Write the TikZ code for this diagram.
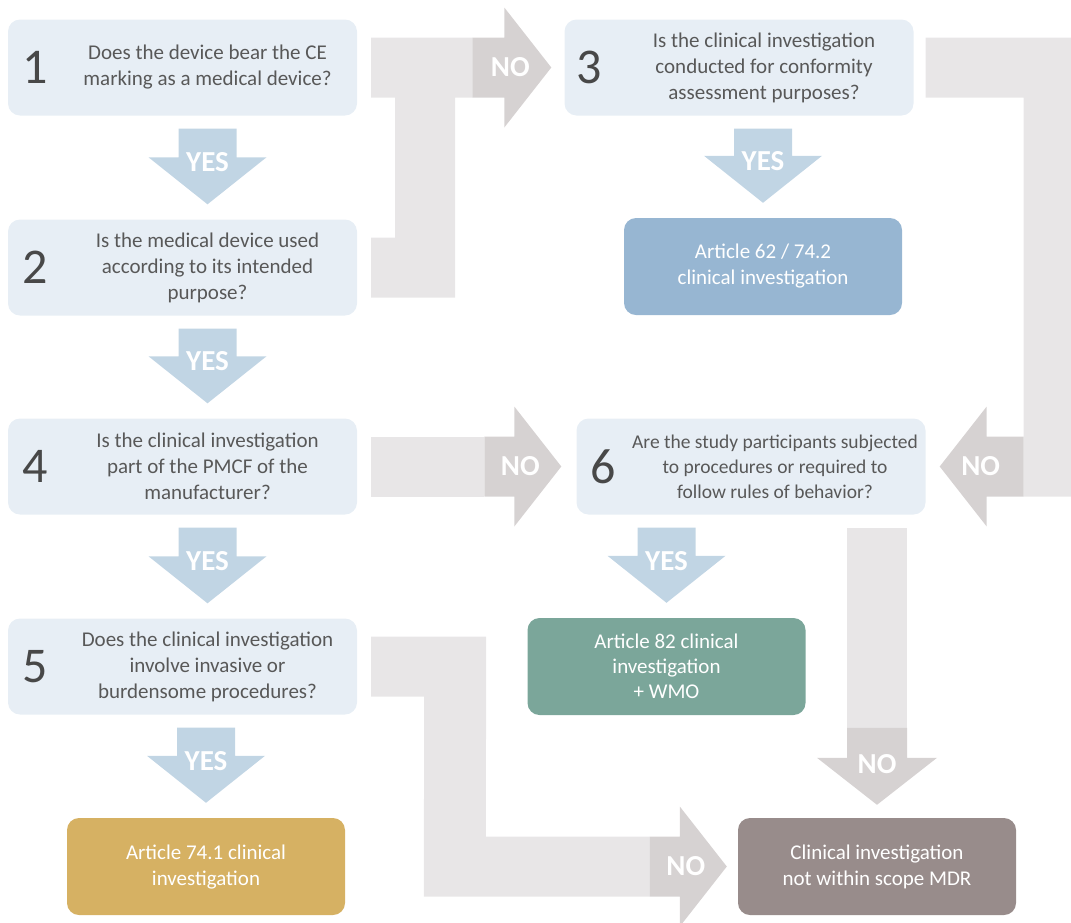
\documentclass[tikz,border=0pt]{standalone}
\usepackage{fontspec}
\setmainfont{Carlito}
\usetikzlibrary{calc}

\definecolor{qfillcol}{HTML}{E7EEF5}
\definecolor{qtextcol}{HTML}{585858}
\definecolor{numcol}{HTML}{484848}
\definecolor{yescol}{HTML}{C1D5E4}
\definecolor{nolightcol}{HTML}{E8E6E7}
\definecolor{nodarkcol}{HTML}{D6D2D2}
\definecolor{art62col}{HTML}{97B6D2}
\definecolor{art82col}{HTML}{7BA69A}
\definecolor{art741col}{HTML}{D6B163}
\definecolor{outcol}{HTML}{988C8B}

\tikzset{
  question/.style={rectangle, rounded corners=12pt, fill=qfillcol, minimum width=349pt, minimum height=96pt},
  result/.style={rectangle, rounded corners=12pt, minimum width=278pt, minimum height=97pt, text=white, align=center, font=\fontsize{21}{26}\selectfont},
  qtext/.style={align=center, text=qtextcol, font=\fontsize{21}{26}\selectfont},
  qnum/.style={text=numcol, font=\fontsize{50}{50}\selectfont},
  arrowlabel/.style={text=white, font=\bfseries\fontsize{29}{29}\selectfont},
  yesfill/.style={fill=yescol},
  nolight/.style={fill=nolightcol},
  nodark/.style={fill=nodarkcol}
}

% YES arrow: name, upper node, lower node, x reference
\newcommand\yesarrow[4]{%
  \coordinate (#1a) at ($(#2.south -| #4)+(0,13)$);
  \coordinate (#1b) at ($(#3.north -| #4)+(0,-15)$);
  \fill[yesfill] ($(#1a)+(-29,0)$) -- ($(#1a)+(29,0)$) -- ($(#1b)+(29,-47)$) -- ($(#1b)+(59,-47)$) -- (#1b)
    -- ($(#1b)+(-59,-47)$) -- ($(#1b)+(-29,-47)$) -- cycle;
  \node[arrowlabel] (#1) at ($(#1b)+(0,-42)$) {YES};}

% NO arrow head: tip, label name, rotation, dark shaft length
\newcommand\nohead[4]{%
  \begin{scope}[shift={(#1)}, rotate=#3]
    \fill[nodark] (-47-#4,-30) -- (-47,-30) -- (-47,-60) -- (0,0) -- (-47,60) -- (-47,30) -- (-47-#4,30) -- cycle;
    \node[arrowlabel] (#2) at (-41,0) {NO};
  \end{scope}}

\begin{document}
\begin{tikzpicture}[x=1pt,y=-1pt]
\useasboundingbox (0,0) rectangle (1071,922);

% questions
\node[question] (q1) at (182.5,67.5) {};
\node[qnum] (q1n) at ($(q1.west)+(27,0)$) {1};
\node[qtext] (q1t) at ($(q1.center)+(25,0)$) {Does the device bear the CE\\marking as a medical device?};
\node[question] (q2) at (182.5,267.5) {};
\node[qnum] (q2n) at ($(q2.west)+(27,0)$) {2};
\node[qtext] (q2t) at ($(q2.center)+(25,0)$) {Is the medical device used\\according to its intended\\purpose?};
\node[question] (q3) at (739,67.5) {};
\node[qnum] (q3n) at ($(q3.west)+(25,0)$) {3};
\node[qtext] (q3t) at ($(q3.center)+(25,0)$) {Is the clinical investigation\\conducted for conformity\\assessment purposes?};
\node[question] (q4) at (182.5,466.5) {};
\node[qnum] (q4n) at ($(q4.west)+(27,0)$) {4};
\node[qtext] (q4t) at ($(q4.center)+(25,0)$) {Is the clinical investigation\\part of the PMCF of the\\manufacturer?};
\node[question] (q5) at (182.5,666.5) {};
\node[qnum] (q5n) at ($(q5.west)+(27,0)$) {5};
\node[qtext] (q5t) at ($(q5.center)+(25,0)$) {Does the clinical investigation\\involve invasive or\\burdensome procedures?};
\node[question] (q6) at (751,466.5) {};
\node[qnum] (q6n) at ($(q6.west)+(27,0)$) {6};
\node[qtext, font=\fontsize{19.5}{25}\selectfont] (q6t) at ($(q6.center)+(24,0)$) {Are the study participants subjected\\to procedures or required to\\follow rules of behavior?};

% outcomes
\node[result, fill=art62col] (r62) at (763,266.5) {Article 62 / 74.2\\clinical investigation};
\node[result, fill=art82col, font=\fontsize{21}{25}\selectfont] (r82) at (666.5,666.5) {Article 82 clinical\\investigation\\+ WMO};
\node[result, fill=art741col] (r741) at (206,866.5) {Article 74.1 clinical\\investigation};
\node[result, fill=outcol] (rout) at (877,866.5) {Clinical investigation\\not within scope MDR};

% yes
\yesarrow{y12}{q1}{q2}{q2t.center}
\yesarrow{y24}{q2}{q4}{q4t.center}
\yesarrow{y45}{q4}{q5}{q5t.center}
\yesarrow{y5r}{q5}{r741}{r741.center}
\yesarrow{y3r}{q3}{r62}{r62.center}
\yesarrow{y6r}{q6}{r82}{r82.center}

% no: 1 and 2 to 3
\coordinate (n3tip) at ($(q3.west)+(-13,0)$);
\fill[nolight] ($(q1.east)+(14,-30)$) -- ($(n3tip)+(-79,-30)$) -- ($(n3tip)+(-79,30)$) -- ($(q1.east)+(98,30)$)
  -- ($(q2.east)+(98,30)$) -- ($(q2.east)+(14,30)$) -- ($(q2.east)+(14,-30)$) -- ($(q2.east)+(38,-30)$)
  -- ($(q1.east)+(38,30)$) -- ($(q1.east)+(14,30)$) -- cycle;
\nohead{n3tip}{no3}{0}{32}

% no: 3 to 6
\coordinate (n6rtip) at ($(q6.east)+(14,0)$);
\fill[nolight] ($(q3.east)+(12,-30)$) -- ($(q3.east)+(170,-30)$) -- ($(n6rtip)+(144,30)$) -- ($(n6rtip)+(84,30)$)
  -- ($(q3.east)+(110,30)$) -- ($(q3.east)+(12,30)$) -- cycle;
\nohead{n6rtip}{no6r}{180}{37}

% no: 4 to 6
\coordinate (n6tip) at ($(q6.west)+(-15,0)$);
\fill[nolight] ($(q4.east)+(14,-30)$) rectangle ($(n6tip)+(-77,30)$);
\nohead{n6tip}{no6}{0}{30}

% no: 6 to out
\coordinate (nouttip) at ($(rout.north)+(0,-13)$);
\fill[nolight] ($(q6.south -| rout.north)+(-30,13)$) rectangle ($(nouttip)+(30,-77)$);
\nohead{nouttip}{noout}{-90}{30}

% no: 5 to out
\coordinate (n5tip) at ($(rout.west)+(-11,0)$);
\fill[nolight] ($(q5.east)+(14,-30)$) -- ($(q5.east)+(129,-30)$) -- ($(n5tip)+(-241,-30)$) -- ($(n5tip)+(-77,-30)$)
  -- ($(n5tip)+(-77,30)$) -- ($(n5tip)+(-303,30)$) -- ($(q5.east)+(67,30)$) -- ($(q5.east)+(14,30)$) -- cycle;
\nohead{n5tip}{no5}{0}{30}
\end{tikzpicture}
\end{document}
